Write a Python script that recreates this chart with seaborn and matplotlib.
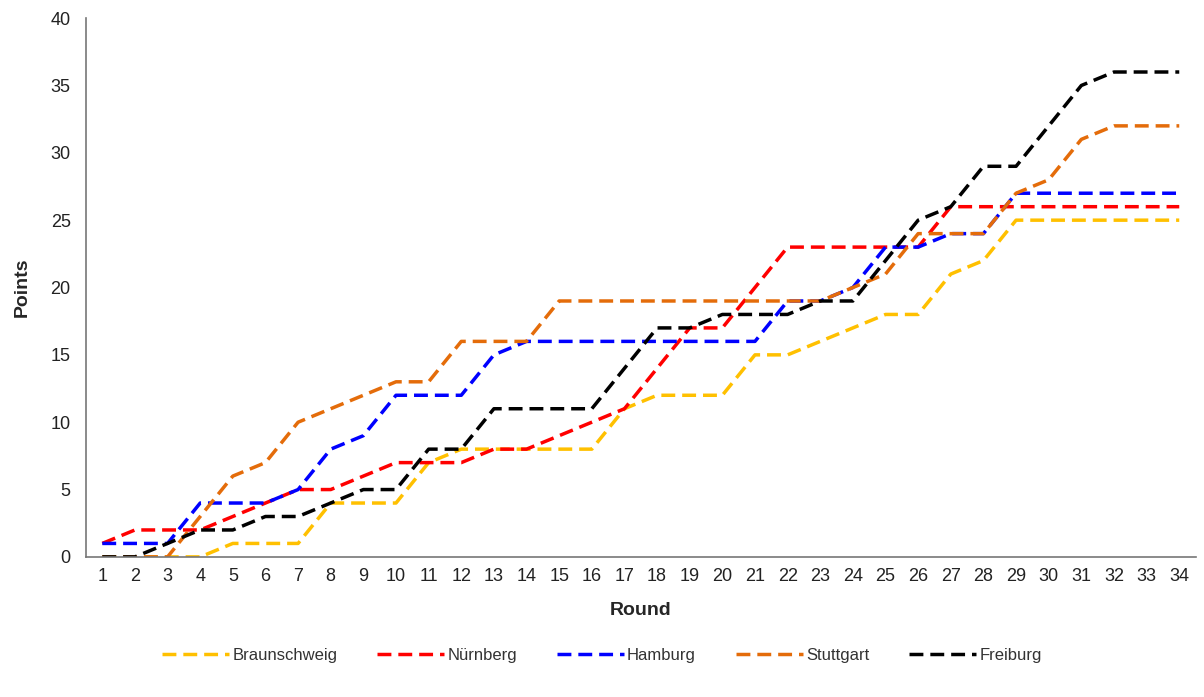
import numpy as np
import pandas as pd
import matplotlib
matplotlib.use("Agg")
import matplotlib.pyplot as plt
import seaborn as sns

# Punkte pro Spieltag
rounds = list(range(1, 35))
teams = ["Braunschweig", "Nürnberg", "Hamburg", "Stuttgart", "Freiburg"]
colors = ["#FFC000", "#FF0000", "#0000FF", "#E46C0A", "#000000"]

braunschweig = [0, 0, 0, 0, 1, 1, 1, 4, 4, 4, 7, 8, 8, 8, 8, 8, 11, 12, 12, 12,
                15, 15, 16, 17, 18, 18, 21, 22, 25, 25, 25, 25, 25, 25]
nuernberg = [1, 2, 2, 2, 3, 4, 5, 5, 6, 7, 7, 7, 8, 8, 9, 10, 11, 14, 17, 17,
             20, 23, 23, 23, 23, 23, 26, 26, 26, 26, 26, 26, 26, 26]
hamburg = [1, 1, 1, 4, 4, 4, 5, 8, 9, 12, 12, 12, 15, 16, 16, 16, 16, 16, 16, 16,
           16, 19, 19, 20, 23, 23, 24, 24, 27, 27, 27, 27, 27, 27]
stuttgart = [0, 0, 0, 3, 6, 7, 10, 11, 12, 13, 13, 16, 16, 16, 19, 19, 19, 19, 19, 19,
             19, 19, 19, 20, 21, 24, 24, 24, 27, 28, 31, 32, 32, 32]
freiburg = [0, 0, 1, 2, 2, 3, 3, 4, 5, 5, 8, 8, 11, 11, 11, 11, 14, 17, 17, 18,
            18, 18, 19, 19, 22, 25, 26, 29, 29, 32, 35, 36, 36, 36]

series = [braunschweig, nuernberg, hamburg, stuttgart, freiburg]
df = pd.concat(
    [pd.DataFrame({"Round": rounds, "Points": vals, "Team": name})
     for name, vals in zip(teams, series)],
    ignore_index=True,
)

sns.set_style("white")
plt.rcParams["font.family"] = ["Liberation Sans", "DejaVu Sans"]

fig = plt.figure(figsize=(12.04, 6.97), dpi=100)
ax = fig.add_axes([0.0714, 0.201, 0.9216, 0.773])

sns.lineplot(
    data=df, x="Round", y="Points", hue="Team", style="Team",
    hue_order=teams, style_order=teams,
    palette=colors, dashes=[(4, 2)] * 5, linewidth=2.5,
    legend=False, ax=ax,
)

ax.set_xlim(0.5, 34.5)
ax.set_ylim(0, 40)
ax.set_yticks(range(0, 41, 5))
ax.set_yticks(np.arange(0, 40.1, 0.5), minor=True)
ax.set_xticks(rounds)
ax.set_xticks(np.arange(0.5, 35, 1), minor=True)
ax.tick_params(axis="x", which="major", length=0, labelsize=13, pad=8,
               labelcolor="#222222")
ax.tick_params(axis="x", which="minor", length=5, direction="out", color="#666666")
ax.tick_params(axis="y", which="major", length=5, direction="out", color="#666666",
               labelsize=13, pad=6, labelcolor="#222222")
ax.tick_params(axis="y", which="minor", length=2, direction="out", color="#aaaaaa",
               width=0.6)

for side in ["top", "right"]:
    ax.spines[side].set_visible(False)
for side in ["left", "bottom"]:
    ax.spines[side].set_color("#777777")
    ax.spines[side].set_linewidth(1.2)

ax.set_xlabel("Round", fontsize=14, fontweight="bold", labelpad=12)
ax.set_ylabel("Points", fontsize=14, fontweight="bold", labelpad=14)

handles = [plt.Line2D([0], [0], color=c, lw=2.5, dashes=(4, 2)) for c in colors]
fig.legend(handles, teams, loc="center", bbox_to_anchor=(0.5, 0.06), ncol=5,
           frameon=False, fontsize=12, handlelength=4, columnspacing=2.4,
           handletextpad=0.2, labelcolor="#333333")

fig.savefig("out.png", dpi=100)
